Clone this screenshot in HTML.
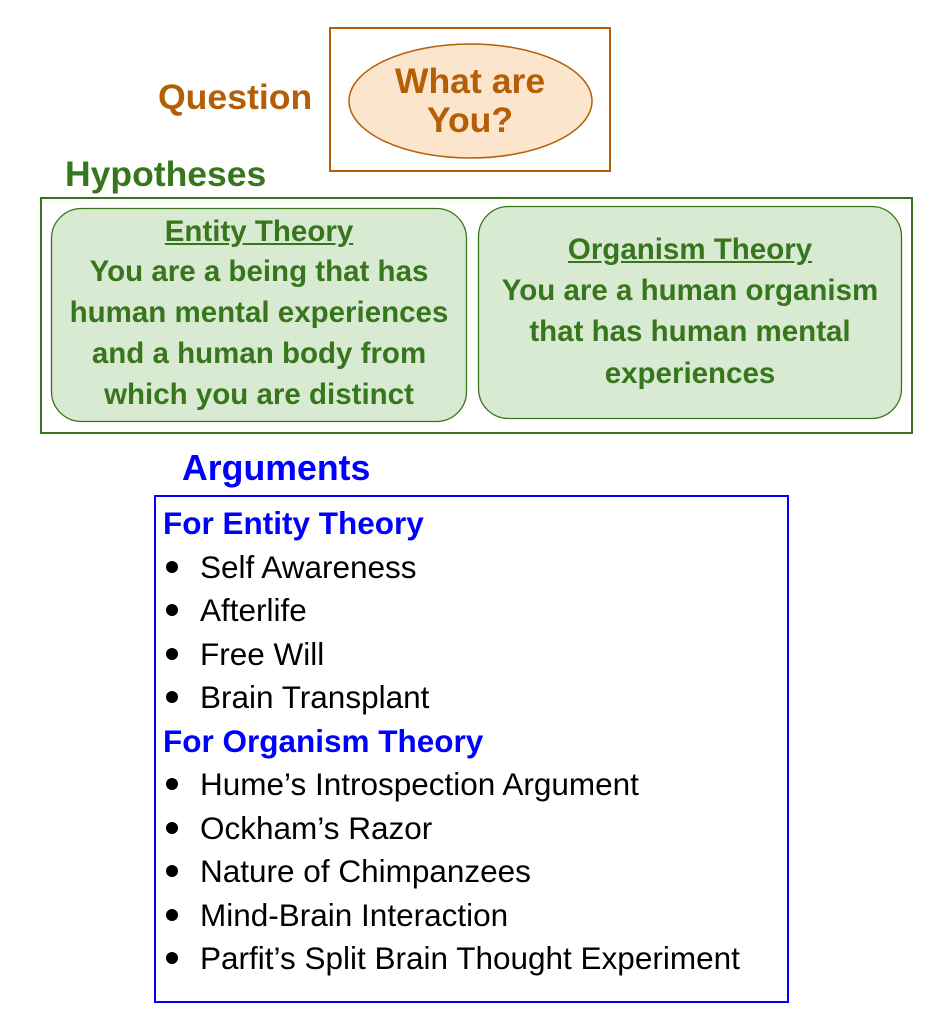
<!DOCTYPE html>
<html><head><meta charset="utf-8"><style>
body{margin:0;width:942px;height:1023px;background:#fff;position:relative;overflow:hidden;font-family:"Liberation Sans",sans-serif}
.a{position:absolute;white-space:nowrap;line-height:1}
.b{font-weight:bold}
.c{text-align:center;transform:translateX(-50%)}
.g{color:#38761d;font-size:29.5px;font-weight:bold}
.l{font-size:31.5px;color:#000;left:200px}
.d{position:absolute;left:166px;width:12px;height:12px;border-radius:50%;background:#000}
.h{font-size:31.5px;color:#0000ff;font-weight:bold;left:163px}
</style></head><body>
<div class="a" style="left:329px;top:27px;width:278px;height:141px;border:2px solid #b45f06"></div>
<svg class="a" style="left:0;top:0" width="942" height="1023">
<ellipse cx="470.5" cy="101" rx="121.5" ry="57" fill="#fce5cd" stroke="#b45f06" stroke-width="1.5"/>
<rect x="41" y="198" width="871" height="235" fill="none" stroke="#38761d" stroke-width="2"/>
<rect x="51.5" y="208.5" width="415" height="213" rx="30" fill="#d9ead3" stroke="#38761d" stroke-width="1.3"/>
<rect x="478.5" y="206.5" width="423" height="212" rx="30" fill="#d9ead3" stroke="#38761d" stroke-width="1.3"/>
<rect x="155" y="496" width="633" height="506" fill="none" stroke="#0000ff" stroke-width="2"/>
</svg>
<div class="a b" style="left:158px;top:80px;font-size:35.6px;color:#b45f06">Question</div>
<div class="a b c" style="left:470px;top:64px;font-size:35.6px;color:#b45f06">What are</div>
<div class="a b c" style="left:470px;top:103px;font-size:35.6px;color:#b45f06">You?</div>
<div class="a b" style="left:65px;top:157px;font-size:35.5px;color:#38761d">Hypotheses</div>
<div class="a g c" style="left:259px;top:217px;text-decoration:underline">Entity Theory</div>
<div class="a g c" style="left:259px;top:257px">You are a being that has</div>
<div class="a g c" style="left:259px;top:298px">human mental experiences</div>
<div class="a g c" style="left:259px;top:339px">and a human body from</div>
<div class="a g c" style="left:259px;top:380px">which you are distinct</div>
<div class="a g c" style="left:690px;top:235px;text-decoration:underline">Organism Theory</div>
<div class="a g c" style="left:690px;top:276px">You are a human organism</div>
<div class="a g c" style="left:690px;top:317px">that has human mental</div>
<div class="a g c" style="left:690px;top:359px">experiences</div>
<div class="a b" style="left:182px;top:451px;font-size:35.7px;color:#0000ff">Arguments</div>
<div class="a h" style="top:508px">For Entity Theory</div>
<div class="d" style="top:561px"></div><div class="a l" style="top:552px">Self Awareness</div>
<div class="d" style="top:604px"></div><div class="a l" style="top:595px">Afterlife</div>
<div class="d" style="top:648px"></div><div class="a l" style="top:639px">Free Will</div>
<div class="d" style="top:691px"></div><div class="a l" style="top:682px">Brain Transplant</div>
<div class="a h" style="top:726px">For Organism Theory</div>
<div class="d" style="top:778px"></div><div class="a l" style="top:769px">Hume’s Introspection Argument</div>
<div class="d" style="top:822px"></div><div class="a l" style="top:813px">Ockham’s Razor</div>
<div class="d" style="top:865px"></div><div class="a l" style="top:856px">Nature of Chimpanzees</div>
<div class="d" style="top:909px"></div><div class="a l" style="top:900px">Mind-Brain Interaction</div>
<div class="d" style="top:952px"></div><div class="a l" style="top:943px">Parfit’s Split Brain Thought Experiment</div>
</body></html>
